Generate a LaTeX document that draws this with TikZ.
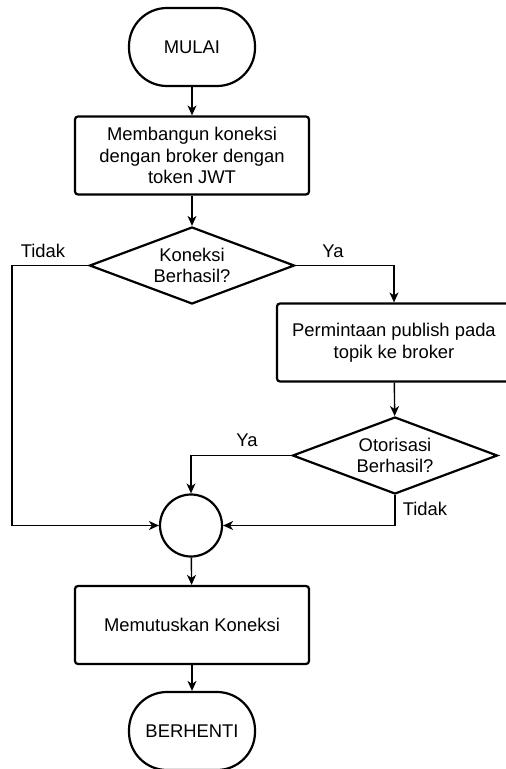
\documentclass[tikz,border=0pt]{standalone}
\usepackage{fontspec}
\setmainfont{Liberation Sans}
\usetikzlibrary{shapes.geometric,arrows.meta}
\begin{document}
\begin{tikzpicture}[x=1pt,y=-1pt,
  every node/.style={font=\fontsize{18.4}{21.8}\selectfont},
  box/.style={draw, line width=2.2pt, rounded corners=3pt, minimum width=234pt,
    minimum height=78pt, align=center, inner sep=0pt},
  term/.style={draw, line width=2.2pt, rounded corners=38pt, minimum width=126pt,
    minimum height=78pt, inner sep=0pt},
  decide/.style={draw, diamond, line width=2.2pt, aspect=2.66, minimum width=205pt,
    minimum height=77pt, inner sep=0pt, align=center},
  joint/.style={draw, circle, line width=2.2pt, minimum size=62pt, inner sep=0pt},
  flow/.style={line width=1.4pt, -{Stealth[length=10pt,width=9pt,inset=3pt]}},
  lbl/.style={inner sep=0pt}
]
\useasboundingbox (0,0) rectangle (506,769);
\begin{scope}
\clip (0,0) rectangle (506,769);

% shapes
\node[term]   (start) at (192,47)    {MULAI};
\node[box]    (conn)  at (192,155.5) {Membangun koneksi\\dengan broker dengan\\token JWT};
\node[decide] (ok1)   at (192,265.5) {Koneksi\\Berhasil?};
\node[box]    (pub)   at (394,342.5) {Permintaan publish pada\\topik ke broker};
\node[decide] (ok2)   at (395,455.5) {Otorisasi\\Berhasil?};
\node[joint]  (join)  at (191,525.5) {};
\node[box]    (disc)  at (192,625)   {Memutuskan Koneksi};
\node[term]   (stop)  at (192,731)   {BERHENTI};

% branch labels
\node[lbl] (no1)  at (43,251)  {Tidak};
\node[lbl] (yes1) at (333,251) {Ya};
\node[lbl] (yes2) at (247,440) {Ya};
\node[lbl] (no2)  at (425,509) {Tidak};

\coordinate (leftrail) at (12,265.5);

% connectors
\draw[flow] (start) -- (conn);
\draw[flow] (conn) -- (ok1);
\draw[flow] (ok1.west) -- (leftrail) |- (join.west);
\draw[flow] (ok1.east) -| (pub.north);
\draw[flow] (pub) -- (ok2);
\draw[flow] (ok2.west) -| (join.north);
\draw[flow] (ok2.south) |- (join.east);
\draw[flow] (join) -- (disc);
\draw[flow] (disc) -- (stop);
\end{scope}
\end{tikzpicture}
\end{document}
